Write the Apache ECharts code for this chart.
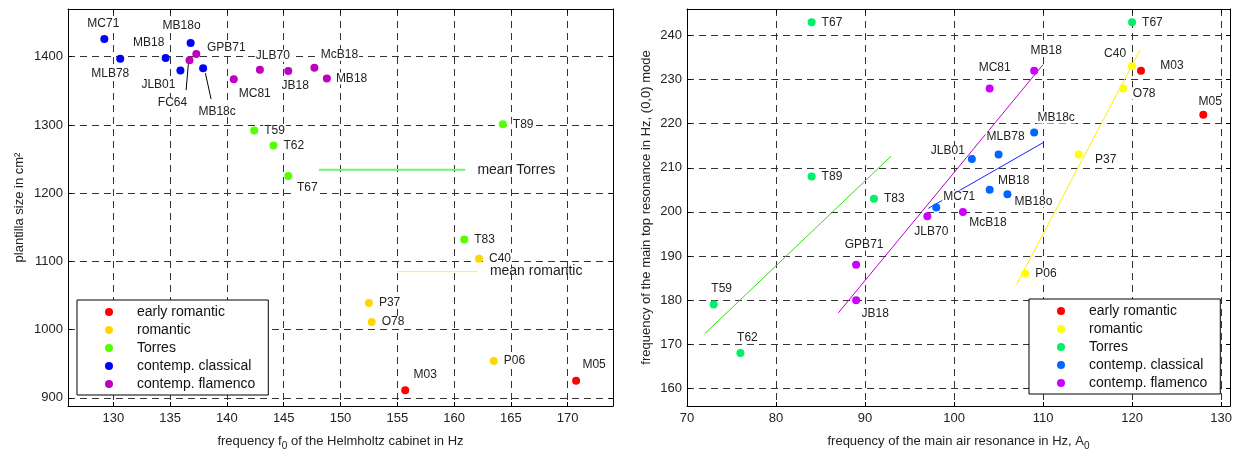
<!DOCTYPE html>
<html><head><meta charset="utf-8">
<script src="https://cdn.jsdelivr.net/npm/echarts@6/dist/echarts.min.js"></script>
<style>html,body{margin:0;padding:0;background:#fff}#c{width:1239px;height:456px}</style>
</head><body><div id="c"></div>
<script>
// ---------- categories & colours ----------
const categories = ['early romantic', 'romantic', 'Torres', 'contemp. classical', 'contemp. flamenco'];
const leftColors = ['#ff0000', '#ffd700', '#55ff00', '#0000ff', '#c000c0'];
const rightColors = ['#ff0000', '#ffff00', '#00f068', '#0066ff', '#cc00ff'];

// ---------- left chart: [name, f0 of Helmholtz cabinet (Hz), plantilla size (cm²)] ----------
const leftEarlyRomantic = [['M03', 155.7, 911], ['M05', 170.75, 925]];
const leftRomantic = [['P37', 152.5, 1039], ['O78', 152.75, 1011], ['C40', 162.2, 1104], ['P06', 163.5, 954]];
const leftTorres = [['T59', 142.4, 1292], ['T62', 144.1, 1270], ['T67', 145.4, 1225], ['T89', 164.3, 1301], ['T83', 160.9, 1132]];
const leftClassical = [['MC71', 129.2, 1426], ['MLB78', 130.6, 1397], ['MB18', 134.6, 1398], ['MB18o', 136.8, 1420], ['JLB01', 135.9, 1380], ['MB18c', 137.9, 1383]];
const leftFlamenco = [['GPB71', 137.3, 1404], ['FC64', 136.7, 1395], ['MC81', 140.6, 1367], ['JLB70', 142.9, 1381], ['JB18', 145.4, 1379], ['McB18', 147.7, 1384], ['MB18', 148.8, 1368]];
const meanTorres = [[148.1, 1234.5], [161.0, 1234.5]];
const meanRomantic = [[155.0, 1085], [162.1, 1085]];
const leaderFC64 = [[136.6, 1389], [136.4, 1351]];
const leaderMB18c = [[138.1, 1376], [138.6, 1338]];
const leftXTicks = [130, 135, 140, 145, 150, 155, 160, 165, 170];
const leftYTicks = [900, 1000, 1100, 1200, 1300, 1400];

// ---------- right chart: [name, air resonance A0 (Hz), top resonance (0,0) (Hz)] ----------
const rightEarlyRomantic = [['M03', 121, 232], ['M05', 128, 222]];
const rightRomantic = [['C40', 120, 233], ['O78', 119, 228], ['P37', 114, 213], ['P06', 108, 186]];
const rightTorres = [['T67', 84, 243], ['T89', 84, 208], ['T83', 91, 203], ['T59', 73, 179], ['T62', 76, 168], ['T67', 120, 243]];
const rightClassical = [['MC71', 98, 201], ['JLB01', 102, 212], ['MLB78', 105, 213], ['MB18c', 109, 218], ['MB18', 104, 205], ['MB18o', 106, 204]];
const rightFlamenco = [['JLB70', 97, 199], ['McB18', 101, 200], ['GPB71', 89, 188], ['JB18', 89, 180], ['MC81', 104, 228], ['MB18', 109, 232]];
const fitTorres = [[72.0, 172.4], [92.9, 212.6]];
const fitFlamenco = [[87.0, 177.1], [110.0, 233.4]];
const fitClassical = [[97.1, 200.8], [110.0, 215.7]];
const fitRomantic = [[107.0, 183.5], [120.9, 236.7]];
const rightYTicks = [160, 170, 180, 190, 200, 210, 220, 230, 240];

// ---------- label placement (style only) ----------
const leftLabelPos = [
  {M03: ['c', 20, -16], M05: ['c', 18, -16]},
  {},
  {T67: ['c', 19, 12]},
  {MC71: ['c', -1, -15], MLB78: ['c', -10, 15], MB18: ['c', -17, -15], MB18o: ['c', -9, -17], JLB01: ['c', -22, 14], MB18c: ['c', 14, 43]},
  {GPB71: ['c', 30, -6], FC64: ['c', -17, 43], MC81: ['c', 21, 14], JLB70: ['c', 13, -14], JB18: ['c', 7, 15], McB18: ['c', 25, -13], MB18: ['l', 8, 0]}
];
const rightLabelPos = [
  {M03: ['c', 31, -5], M05: ['c', 7, -13]},
  {C40: ['c', -17, -13], O78: ['c', 21, 5], P37: ['c', 27, 5]},
  {T59: ['c', 8, -16], T62: ['c', 7, -15]},
  {MC71: ['c', 23, -11], JLB01: ['c', -24, -8], MLB78: ['c', 7, -18], MB18c: ['c', 22, -15], MB18: ['c', 24, -9], MB18o: ['c', 26, 7]},
  {JLB70: ['c', 4, 15], McB18: ['c', 25, 11], GPB71: ['c', 8, -20], JB18: ['c', 19, 14], MC81: ['c', 5, -21], MB18: ['c', 12, -20]}
];

const FONT = 'Liberation Sans, Arial, sans-serif';
const leftSets = [leftEarlyRomantic, leftRomantic, leftTorres, leftClassical, leftFlamenco];
const rightSets = [rightEarlyRomantic, rightRomantic, rightTorres, rightClassical, rightFlamenco];

function scatter(prefix, ci, set, colors, posMaps, axisIdx) {
  return {
    type: 'scatter', name: prefix + '|' + categories[ci],
    xAxisIndex: axisIdx, yAxisIndex: axisIdx,
    symbolSize: 8, itemStyle: {color: colors[ci], opacity: 1},
    emphasis: {disabled: true}, silent: true, z: 3,
    data: set.map(d => {
      const p = posMaps[ci][d[0]] || ['l', 9, 0];
      return {
        name: d[0], value: [d[1], d[2]],
        label: {
          show: true, formatter: d[0], position: 'inside', offset: [p[1], p[2]],
          align: p[0] === 'l' ? 'left' : 'center', verticalAlign: 'middle',
          color: '#222', fontSize: 12, fontFamily: FONT,
          backgroundColor: '#fff', padding: [0, 1]
        }
      };
    })
  };
}
function seg(data, color, width, axisIdx, extra) {
  return Object.assign({
    type: 'line', data: data, xAxisIndex: axisIdx, yAxisIndex: axisIdx,
    showSymbol: false, symbol: 'none', silent: true, z: 2,
    lineStyle: {color: color, width: width}, emphasis: {disabled: true}
  }, extra || {});
}

const gridLine = {show: true, lineStyle: {type: [7, 5], color: '#333', width: 1}};
const tickStyle = {inside: true, length: 4, lineStyle: {color: '#000'}};
const labelStyle = {color: '#222', fontSize: 13, fontFamily: FONT, formatter: v => String(v)};
const nameStyle = {color: '#222', fontSize: 13, fontFamily: FONT,
  rich: {sub: {fontSize: 10, fontFamily: FONT, color: '#222', padding: [9, 0, 0, 0]}}};

function mainX(gi, min, max, ticks, interval, name) {
  const ax = {
    type: 'value', gridIndex: gi, min: min, max: max, position: 'bottom',
    axisLine: {show: true, onZero: false, lineStyle: {color: '#000'}},
    axisTick: Object.assign({}, tickStyle), splitLine: gridLine,
    axisLabel: Object.assign({margin: 6}, labelStyle),
    name: name, nameLocation: 'middle', nameGap: 26, nameTextStyle: nameStyle
  };
  if (ticks) { ax.axisTick.customValues = ticks; ax.axisLabel.customValues = ticks; }
  else ax.interval = interval;
  return ax;
}
function mainY(gi, min, max, ticks, name, gap) {
  return {
    type: 'value', gridIndex: gi, min: min, max: max, position: 'left',
    axisLine: {show: true, onZero: false, lineStyle: {color: '#000'}},
    axisTick: Object.assign({customValues: ticks}, tickStyle), splitLine: gridLine,
    axisLabel: Object.assign({customValues: ticks, margin: 5}, labelStyle),
    name: name, nameLocation: 'middle', nameGap: gap, nameTextStyle: nameStyle
  };
}
function boxX(gi, min, max, ticks, interval) {
  const ax = {type: 'value', gridIndex: gi, min: min, max: max, position: 'top',
    axisLine: {show: true, onZero: false, lineStyle: {color: '#000'}},
    axisTick: Object.assign({}, tickStyle), axisLabel: {show: false}, splitLine: {show: false}};
  if (ticks) ax.axisTick.customValues = ticks; else ax.interval = interval;
  return ax;
}
function boxY(gi, min, max, ticks) {
  return {type: 'value', gridIndex: gi, min: min, max: max, position: 'right',
    axisLine: {show: true, onZero: false, lineStyle: {color: '#000'}},
    axisTick: Object.assign({customValues: ticks}, tickStyle), axisLabel: {show: false}, splitLine: {show: false}};
}

const series = [];
leftSets.forEach((s, i) => series.push(scatter('L', i, s, leftColors, leftLabelPos, 0)));
rightSets.forEach((s, i) => series.push(scatter('R', i, s, rightColors, rightLabelPos, 1)));
const endLab = (txt) => ({endLabel: {show: true, formatter: txt, distance: 12, color: '#222', fontSize: 14, fontFamily: FONT}});
series.push(seg(meanTorres, '#6cf56c', 2, 0, endLab('mean Torres')));
series.push(seg(meanRomantic, '#ffee55', 1, 0, endLab('mean romantic')));
series.push(seg(leaderFC64, '#000', 1, 0));
series.push(seg(leaderMB18c, '#000', 1, 0));
series.push(seg(fitTorres, '#33dd11', 1, 1));
series.push(seg(fitFlamenco, '#bb00cc', 1, 1));
series.push(seg(fitClassical, '#1122ff', 1, 1));
series.push(seg(fitRomantic, '#ffee00', 1, 1));

function legend(prefix, left, top) {
  return {
    left: left, top: top, orient: 'vertical', icon: 'circle',
    itemWidth: 8, itemHeight: 8, itemGap: 4,
    padding: [5, 13, 4, 28], borderColor: '#000', borderWidth: 1, backgroundColor: '#fff',
    selectedMode: false,
    textStyle: {fontSize: 14, fontFamily: FONT, color: '#111', padding: [0, 0, 0, 19]},
    formatter: n => n.split('|')[1],
    data: categories.map(c => prefix + '|' + c)
  };
}

const option = {
  animation: false,
  backgroundColor: '#fff',
  grid: [
    {left: 68, top: 9, width: 545, height: 402},
    {left: 687, top: 9, width: 543, height: 402}
  ],
  xAxis: [
    mainX(0, 126, 174, leftXTicks, null, 'frequency f{sub|0} of the Helmholtz cabinet in Hz'),
    mainX(1, 70, 131, null, 10, 'frequency of the main air resonance in Hz, A{sub|0}'),
    boxX(0, 126, 174, leftXTicks, null),
    boxX(1, 70, 131, null, 10)
  ],
  yAxis: [
    mainY(0, 888, 1470, leftYTicks, 'plantilla size in cm²', 42),
    mainY(1, 156, 246, rightYTicks, 'frequency of the main top resonance in Hz, (0,0) mode', 34),
    boxY(0, 888, 1470, leftYTicks),
    boxY(1, 156, 246, rightYTicks)
  ],
  legend: [legend('L', 77, 300), legend('R', 1029, 299)],
  series: series
};
const chart = echarts.init(document.getElementById('c'), null, {renderer: 'canvas'});
chart.setOption(option);
</script>
</body></html>
